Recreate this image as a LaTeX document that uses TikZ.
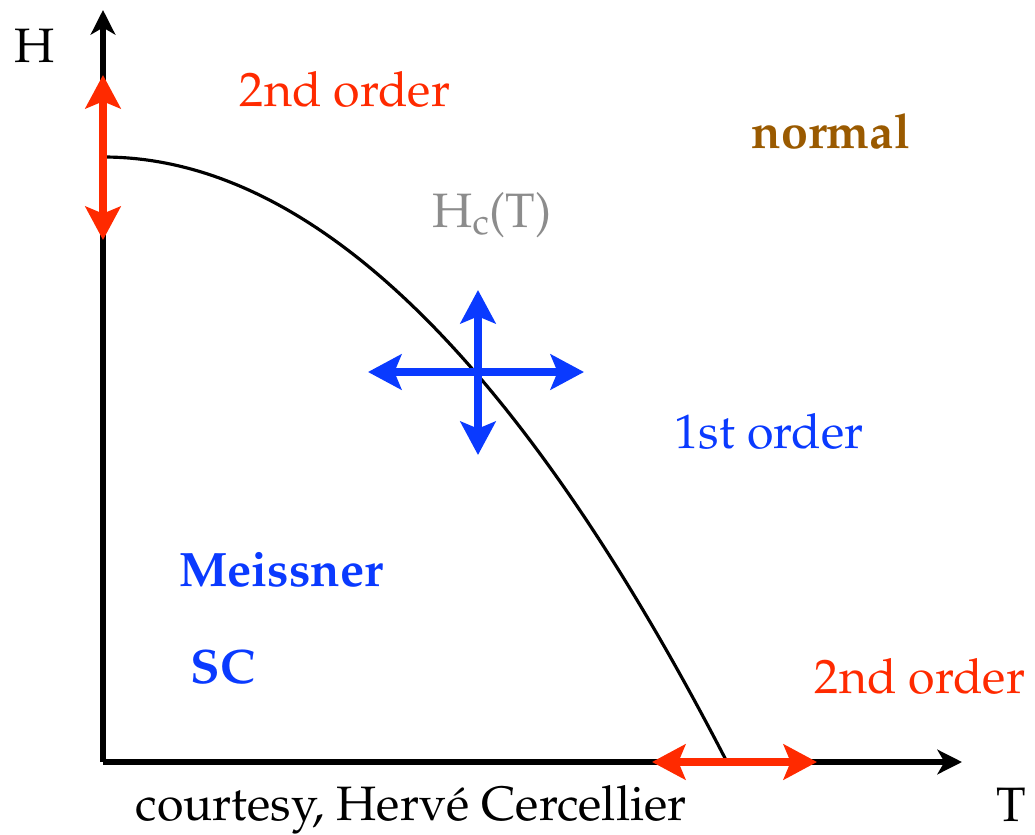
\documentclass[tikz,border=0pt]{standalone}
\usepackage[T1]{fontenc}
\usepackage{mathpazo}
\usetikzlibrary{arrows.meta}

\definecolor{orderred}{RGB}{255,42,0}
\definecolor{scblue}{RGB}{10,58,255}
\definecolor{normalbrown}{RGB}{154,90,0}
\definecolor{hcgray}{RGB}{140,140,140}

\tikzset{
  lbl/.style={font=\fontsize{27.5}{32}\selectfont, inner sep=0pt},
  boldlbl/.style={lbl, font=\fontsize{27.5}{32}\selectfont\bfseries},
  axis/.style={line width=3.2pt, -{Stealth[length=14pt,width=14pt,inset=4pt]}},
  twoway/.style={line width=4pt, {Stealth[length=19pt,width=20pt,inset=4pt]}-{Stealth[length=19pt,width=20pt,inset=4pt]}},
}

\begin{document}
\begin{tikzpicture}[x=0.02cm, y=-0.02cm]
    \useasboundingbox (0,0) rectangle (1035,835);

    % Axes
    \coordinate (O) at (103,762);
    \coordinate (Htop) at (103,10);
    \coordinate (Tend) at (962,762);
    \draw[axis] (O) -- (Htop);
    \draw[axis] (O) -- (Tend);
    \node[lbl, anchor=base] (Hlab) at (35,62) {H};
    \node[lbl, anchor=base east] (Tlab) at (1026,821) {T};

    % Critical field curve
    \draw[line width=1.8pt] plot[domain=0:624, samples=80, smooth] ({103+\x}, {762-605*(1-(\x/624)^2)});
    \node[lbl, text=hcgray] (hc) at (492,215) {H\textsubscript{c}(T)};

    % Red double arrows (2nd order)
    \coordinate (Vtop) at (103,75);
    \coordinate (Vbot) at (103,240);
    \draw[twoway, orderred] (Vtop) -- (Vbot);
    \coordinate (Hl) at (652,762);
    \coordinate (Hr) at (817,762);
    \draw[twoway, orderred] (Hl) -- (Hr);

    % Blue cross (1st order)
    \coordinate (Xl) at (368,372);
    \coordinate (Xr) at (584,372);
    \coordinate (Xu) at (478,290);
    \coordinate (Xd) at (478,455);
    \draw[twoway, scblue] (Xl) -- (Xr);
    \draw[twoway, scblue] (Xu) -- (Xd);

    % Labels
    \node[lbl, text=orderred] (second1) at (345,90) {2nd order};
    \node[boldlbl, text=normalbrown] (normal) at (831,131) {normal};
    \node[lbl, text=scblue] (first) at (769,432) {1st order};
    \node[boldlbl, text=scblue] (meissner) at (281,570) {Meissner};
    \node[boldlbl, text=scblue] (sc) at (223,667) {SC};
    \node[lbl, text=orderred] (second2) at (920,677) {2nd order};
    \node[lbl, anchor=base] (credit) at (411,820) {courtesy, Herv\'e Cercellier};
\end{tikzpicture}
\end{document}
